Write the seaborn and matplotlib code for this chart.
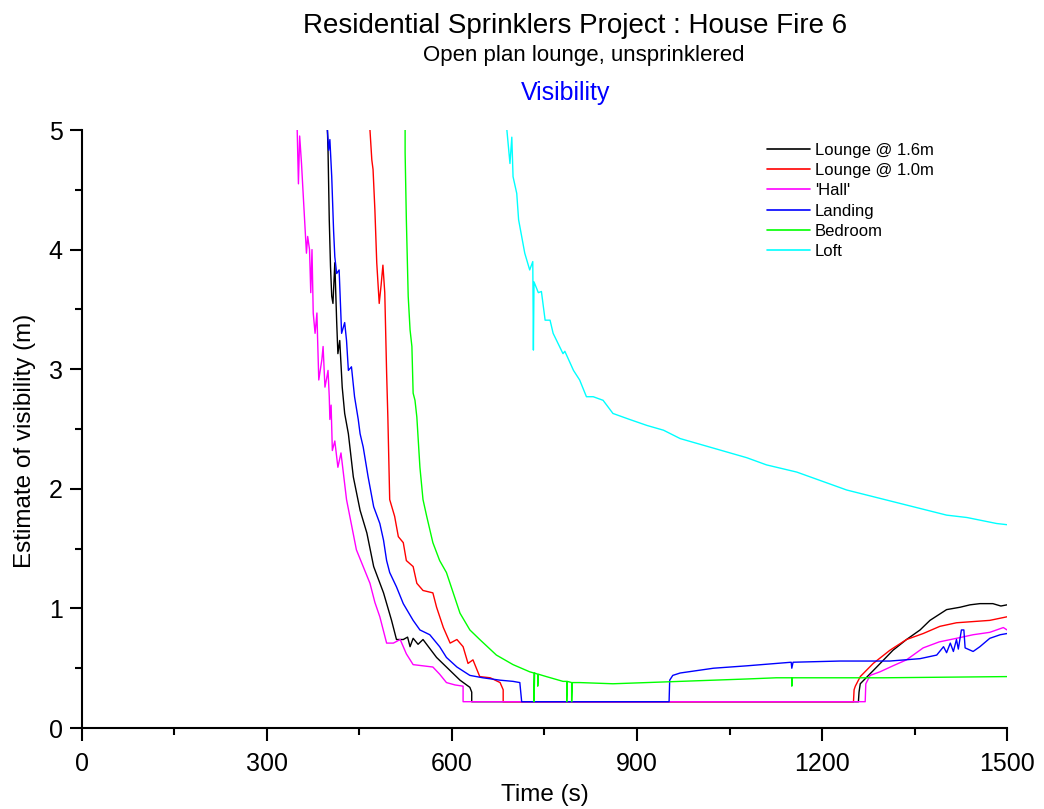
import pandas as pd
import matplotlib
matplotlib.use("Agg")
import matplotlib.pyplot as plt
import seaborn as sns
from matplotlib.ticker import MultipleLocator

# Readings taken off the original chart (time in s, visibility in m)
lounge16_t = [398, 399, 401, 403, 405, 407, 410, 413, 415, 418, 422, 426, 432, 440, 451, 462, 473, 489, 502, 510,
              521, 528, 532, 537, 545, 553, 575, 591, 613, 629, 632, 632, 1259, 1260, 1262, 1283, 1300, 1315, 1337, 1359,
              1375, 1402, 1424, 1440, 1456, 1477, 1490, 1500]
lounge16_v = [5.0, 4.83, 4.25, 3.86, 3.61, 3.55, 3.89, 3.40, 3.13, 3.24, 2.85, 2.63, 2.46, 2.10, 1.82, 1.63, 1.35, 1.13, 0.90, 0.74,
              0.74, 0.76, 0.68, 0.75, 0.70, 0.74, 0.59, 0.51, 0.40, 0.34, 0.30, 0.22, 0.22, 0.30, 0.37, 0.48, 0.57, 0.65, 0.74, 0.82,
              0.90, 0.99, 1.01, 1.03, 1.04, 1.04, 1.02, 1.03]

lounge10_t = [467, 470, 472, 475, 478, 482, 485, 488, 491, 494, 496, 499, 507, 513, 521, 526, 537, 543, 553, 569,
              575, 586, 597, 608, 618, 626, 634, 645, 662, 678, 683, 683, 1251, 1252, 1254, 1262, 1283, 1310, 1337, 1364,
              1391, 1418, 1445, 1472, 1500]
lounge10_v = [5.0, 4.75, 4.67, 4.33, 3.89, 3.55, 3.70, 3.87, 3.64, 2.97, 2.60, 1.91, 1.77, 1.60, 1.55, 1.40, 1.35, 1.21, 1.15, 1.13,
              1.01, 0.84, 0.71, 0.74, 0.68, 0.54, 0.57, 0.43, 0.42, 0.38, 0.32, 0.22, 0.22, 0.32, 0.35, 0.43, 0.54, 0.65, 0.74, 0.79,
              0.85, 0.88, 0.89, 0.90, 0.93]

hall_t = [349, 351, 353, 356, 358, 361, 364, 366, 369, 371, 373, 375, 378, 381, 382, 384, 389, 391, 394, 397,
          399, 401, 402, 404, 406, 410, 415, 420, 429, 437, 445, 456, 467, 475, 483, 494, 505, 516, 526, 537,
          553, 569, 580, 591, 605, 618, 618, 1270, 1271, 1278, 1294, 1315, 1337, 1364, 1390, 1418, 1445, 1472, 1494, 1500]
hall_v = [5.0, 4.55, 4.95, 4.72, 4.53, 4.25, 3.97, 4.11, 4.00, 3.64, 4.00, 3.47, 3.30, 3.47, 3.27, 2.91, 3.08, 3.19, 2.85, 2.93,
          2.99, 2.77, 2.58, 2.70, 2.32, 2.40, 2.18, 2.30, 1.91, 1.70, 1.49, 1.35, 1.21, 1.05, 0.93, 0.71, 0.71, 0.74, 0.62, 0.53,
          0.52, 0.51, 0.45, 0.38, 0.36, 0.35, 0.22, 0.22, 0.37, 0.44, 0.47, 0.52, 0.57, 0.67, 0.72, 0.75, 0.78, 0.80, 0.84, 0.82]

landing_t = [398, 400, 402, 405, 408, 410, 413, 417, 421, 426, 429, 432, 437, 442, 448, 451, 456, 464, 473, 483,
             489, 494, 499, 510, 521, 537, 548, 564, 580, 591, 608, 629, 650, 678, 699, 710, 713, 952, 953, 958,
             970, 997, 1024, 1078, 1126, 1150, 1151, 1153, 1229, 1310, 1359, 1386, 1397, 1402, 1408, 1413, 1418, 1421, 1426, 1430,
             1432, 1445, 1456, 1472, 1489, 1500]
landing_v = [5.0, 4.83, 4.92, 4.61, 4.16, 3.94, 3.80, 3.83, 3.30, 3.39, 3.24, 2.99, 3.02, 2.77, 2.58, 2.46, 2.35, 2.10, 1.85, 1.71,
             1.57, 1.40, 1.30, 1.18, 1.04, 0.90, 0.82, 0.78, 0.68, 0.59, 0.51, 0.44, 0.42, 0.40, 0.39, 0.38, 0.22, 0.22, 0.40, 0.44,
             0.46, 0.48, 0.50, 0.52, 0.54, 0.55, 0.50, 0.55, 0.56, 0.56, 0.58, 0.61, 0.68, 0.63, 0.71, 0.64, 0.74, 0.66, 0.82, 0.82,
             0.67, 0.64, 0.68, 0.75, 0.78, 0.79]

bedroom_t = [524, 524, 526, 529, 532, 535, 537, 540, 543, 548, 553, 559, 569, 580, 591, 602, 613, 629, 645, 672,
             699, 726, 733, 733, 734, 739, 739, 740, 753, 780, 786, 786, 787, 794, 794, 795, 807, 861, 916, 970,
             1024, 1078, 1126, 1151, 1151, 1152, 1300, 1500]
bedroom_v = [5.0, 4.81, 4.25, 3.61, 3.33, 3.19, 2.80, 2.74, 2.60, 2.18, 1.91, 1.77, 1.55, 1.40, 1.30, 1.13, 0.96, 0.82, 0.74, 0.61,
             0.53, 0.47, 0.46, 0.22, 0.46, 0.45, 0.35, 0.45, 0.43, 0.39, 0.39, 0.22, 0.39, 0.38, 0.22, 0.38, 0.38, 0.37, 0.38, 0.39,
             0.40, 0.41, 0.42, 0.42, 0.35, 0.42, 0.42, 0.43]

loft_t = [689, 694, 697, 699, 705, 708, 713, 718, 726, 731, 732, 733, 740, 745, 751, 759, 764, 780, 783, 797,
          807, 818, 829, 845, 861, 888, 916, 943, 970, 1024, 1078, 1110, 1159, 1186, 1240, 1294, 1348, 1402, 1435, 1483,
          1500]
loft_v = [5.0, 4.72, 4.94, 4.61, 4.47, 4.25, 4.11, 3.97, 3.83, 3.90, 3.16, 3.73, 3.64, 3.65, 3.41, 3.41, 3.30, 3.13, 3.15, 2.99,
          2.91, 2.77, 2.77, 2.74, 2.63, 2.58, 2.53, 2.49, 2.42, 2.34, 2.26, 2.20, 2.14, 2.09, 1.99, 1.92, 1.85, 1.78, 1.76, 1.71,
          1.70]

series_names = ["Lounge @ 1.6m", "Lounge @ 1.0m", "'Hall'", "Landing", "Bedroom", "Loft"]
series_colors = ["#000000", "#ff0000", "#ff00ff", "#0000ff", "#00ff00", "#00ffff"]


def main():
    sns.set_style("ticks")
    plt.rcParams["font.family"] = ["Liberation Sans", "DejaVu Sans"]
    # plain black text and axes, like the original
    plt.rcParams.update({
        "text.color": "black",
        "axes.labelcolor": "black",
        "axes.edgecolor": "black",
        "xtick.color": "black",
        "ytick.color": "black",
    })

    series = [
        (lounge16_t, lounge16_v),
        (lounge10_t, lounge10_v),
        (hall_t, hall_v),
        (landing_t, landing_v),
        (bedroom_t, bedroom_v),
        (loft_t, loft_v),
    ]

    fig = plt.figure(figsize=(10.44, 8.09), dpi=100)
    ax = fig.add_axes([0.0785, 0.1001, 0.8861, 0.7392])

    for (t, v), name, col in zip(series, series_names, series_colors):
        df = pd.DataFrame({"time": t, "vis": v})
        sns.lineplot(data=df, x="time", y="vis", estimator=None, sort=False,
                     color=col, linewidth=1.0, label=name, ax=ax)

    ax.set_xlim(0, 1500)
    ax.set_ylim(0, 5)
    ax.xaxis.set_major_locator(MultipleLocator(300))
    ax.xaxis.set_minor_locator(MultipleLocator(150))
    ax.yaxis.set_major_locator(MultipleLocator(1))
    ax.yaxis.set_minor_locator(MultipleLocator(0.5))
    ax.tick_params(which="major", direction="out", length=9, width=1.5, labelsize=18)
    ax.tick_params(axis="x", which="major", pad=8)
    ax.tick_params(axis="y", which="major", pad=5)
    ax.tick_params(which="minor", direction="out", length=5, width=1.5)

    sns.despine(ax=ax)
    for side in ["left", "bottom"]:
        ax.spines[side].set_linewidth(1.5)

    ax.set_xlabel("Time (s)", fontsize=17.5, labelpad=6)
    ax.set_ylabel("Estimate of visibility (m)", fontsize=17.5)
    ax.yaxis.set_label_coords(-0.05, 0.48)

    leg = ax.legend(loc="upper left", bbox_to_anchor=(0.733, 0.99), frameon=False,
                    fontsize=12, handlelength=2.6, handletextpad=0.3, labelspacing=0.32,
                    borderaxespad=0.0)
    for line in leg.get_lines():
        line.set_linewidth(1.2)

    fig.text(0.551, 0.968, "Residential Sprinklers Project : House Fire 6",
             ha="center", va="center", fontsize=20)
    fig.text(0.559, 0.931, "Open plan lounge, unsprinklered",
             ha="center", va="center", fontsize=16)
    fig.text(0.542, 0.885, "Visibility", ha="center", va="center",
             fontsize=18, color="#0000ff")

    fig.savefig("out.png", dpi=100)


if __name__ == "__main__":
    main()
